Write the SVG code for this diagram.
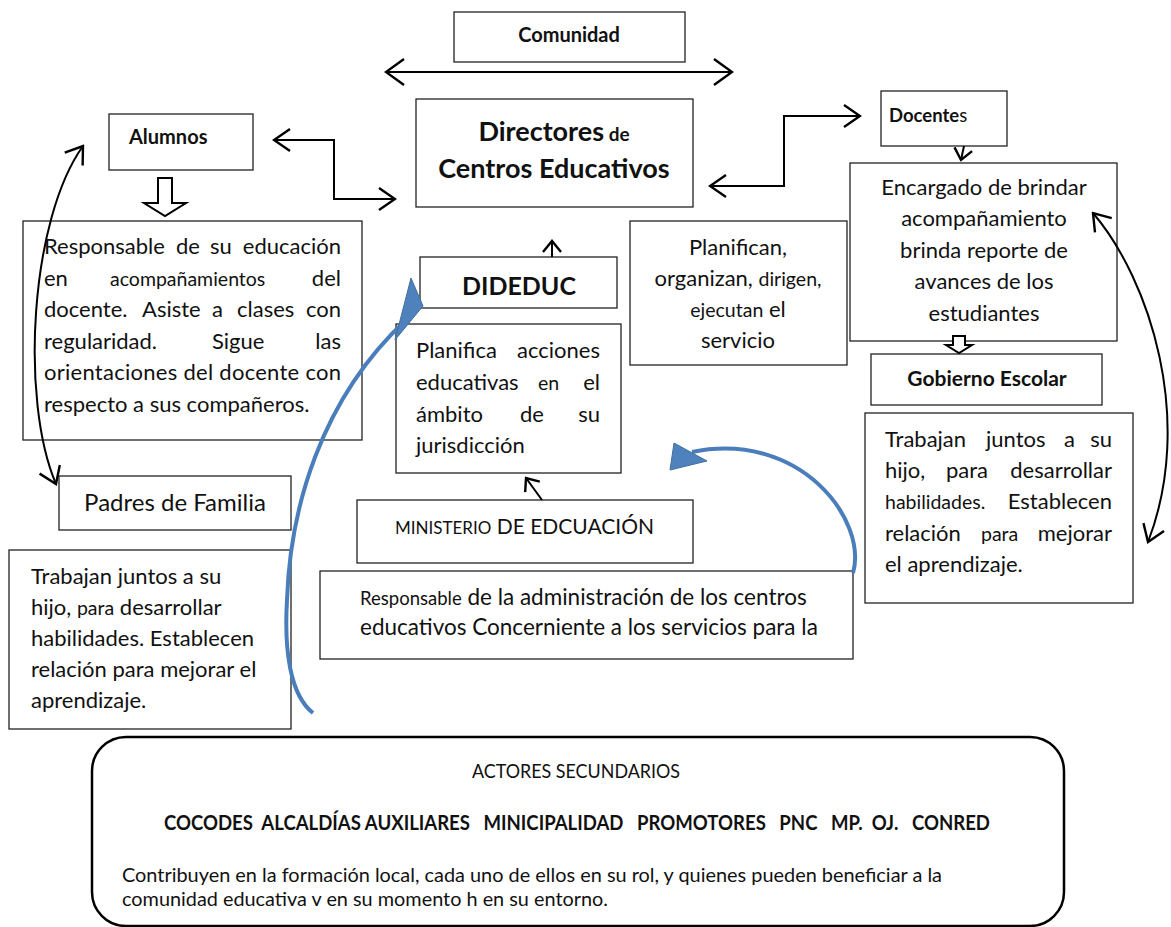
<svg xmlns="http://www.w3.org/2000/svg" width="1171" height="927" viewBox="0 0 1171 927">
<style>
.box{fill:#fff;stroke:#222;stroke-width:1.3}
.t{font-family:Lato,'Open Sans','Liberation Sans',sans-serif;font-size:22px;fill:#111}
.b{font-weight:bold}
.sm{font-size:19.5px}
.c{text-anchor:middle}
.e{text-anchor:end}
.conn{fill:none;stroke:#000;stroke-width:2}
.blue{fill:none;stroke:#4A7EBB;stroke-width:4;stroke-linecap:butt}
.bhead{fill:#4F81BD;stroke:#41719C;stroke-width:1}
.blk{fill:#fff;stroke:#000;stroke-width:2;stroke-linejoin:miter}
</style>
<defs>
<marker id="ahL" viewBox="0 0 22 30" refX="20" refY="15" markerWidth="22" markerHeight="30" markerUnits="userSpaceOnUse" orient="auto-start-reverse"><path d="M2,2 L20,15 L2,28" fill="none" stroke="#000" stroke-width="2.4"/></marker>
<marker id="ah" viewBox="0 0 20 26" refX="18" refY="13" markerWidth="20" markerHeight="26" markerUnits="userSpaceOnUse" orient="auto-start-reverse"><path d="M2,2 L18,13 L2,24" fill="none" stroke="#000" stroke-width="2.4"/></marker>
<marker id="ahS" viewBox="0 0 14 20" refX="12" refY="10" markerWidth="14" markerHeight="20" markerUnits="userSpaceOnUse" orient="auto-start-reverse"><path d="M1,1 L12,10 L1,19" fill="none" stroke="#000" stroke-width="2.4"/></marker>
</defs>
<rect width="1171" height="927" fill="#fff"/>

<g id="comunidad">
<rect class="box" x="454" y="12" width="231" height="50"/>
<text class="t b c" x="569" y="42" style="font-size:20px">Comunidad</text>
</g>

<g id="directores">
<rect class="box" x="416" y="99" width="277" height="108"/>
<text class="t b c" x="554" y="141" style="font-size:27px">Directores<tspan font-size="19"> de</tspan></text>
<text class="t b c" x="554" y="178" style="font-size:27px">Centros Educativos</text>
</g>

<g id="alumnos">
<rect class="box" x="109" y="114" width="144" height="56"/>
<text class="t b" x="129" y="144" style="font-size:20px">Alumnos</text>
</g>

<g id="alumnos-desc">
<rect class="box" x="23" y="221" width="339" height="219"/>
<text class="t" x="44" y="254">Responsable</text>
<text class="t" x="176" y="254">de</text>
<text class="t" x="210" y="254">su</text>
<text class="t e" x="341" y="254">educación</text>
<text class="t" x="44" y="286">en</text>
<text class="t sm" x="110" y="286">acompañamientos</text>
<text class="t e" x="341" y="286">del</text>
<text class="t" x="44" y="317">docente.</text>
<text class="t" x="142" y="317">Asiste</text>
<text class="t" x="212" y="317">a</text>
<text class="t" x="237" y="317">clases</text>
<text class="t e" x="341" y="317">con</text>
<text class="t" x="44" y="349">regularidad.</text>
<text class="t" x="212" y="349">Sigue</text>
<text class="t e" x="341" y="349">las</text>
<text class="t" x="44" y="380" textLength="297" lengthAdjust="spacing">orientaciones del docente con</text>
<text class="t" x="44" y="412">respecto a sus compañeros.</text>
</g>

<g id="padres">
<rect class="box" x="59" y="476" width="232" height="54"/>
<text class="t c" x="175" y="511" style="font-size:24px">Padres de Familia</text>
</g>

<g id="padres-desc">
<rect class="box" x="9" y="550" width="282" height="179"/>
<text class="t" x="31" y="584">Trabajan juntos a su</text>
<text class="t" x="31" y="615">hijo, <tspan class="sm">para</tspan> desarrollar</text>
<text class="t" x="31" y="646">habilidades. Establecen</text>
<text class="t" x="31" y="677">relación para mejorar el</text>
<text class="t" x="31" y="708">aprendizaje.</text>
</g>

<g id="dideduc">
<rect class="box" x="420" y="257" width="197" height="51"/>
<text class="t b c" x="519" y="295" style="font-size:25px">DIDEDUC</text>
</g>

<g id="dideduc-desc">
<rect class="box" x="396" y="324" width="225" height="149"/>
<text class="t" x="416" y="358">Planifica</text>
<text class="t e" x="600" y="358">acciones</text>
<text class="t" x="416" y="390">educativas</text>
<text class="t sm" x="538" y="390">en</text>
<text class="t e" x="600" y="390">el</text>
<text class="t" x="416" y="422">ámbito</text>
<text class="t" x="520" y="422">de</text>
<text class="t e" x="600" y="422">su</text>
<text class="t" x="416" y="453">jurisdicción</text>
</g>

<g id="ministerio">
<rect class="box" x="357" y="500" width="336" height="63"/>
<text class="t" x="395" y="534" style="font-size:21px"><tspan font-size="17">MINISTERIO</tspan> DE EDCUACIÓN</text>
</g>

<g id="ministerio-desc">
<rect class="box" x="320" y="571" width="533" height="88"/>
<text class="t" x="360" y="605" style="font-size:22.5px"><tspan font-size="18.5">Responsable</tspan> de la administración de los centros</text>
<text class="t" x="360" y="635" style="font-size:22.5px">educativos Concerniente a los servicios para la</text>
</g>

<g id="directores-desc">
<rect class="box" x="630" y="221" width="217" height="144"/>
<text class="t c" x="738" y="255">Planifican,</text>
<text class="t c" x="738" y="286">organizan, <tspan class="sm">dirigen,</tspan></text>
<text class="t c" x="738" y="317"><tspan class="sm">ejecutan</tspan> el</text>
<text class="t c" x="738" y="348">servicio</text>
</g>

<g id="docentes">
<rect class="box" x="881" y="91" width="126" height="55"/>
<text class="t" x="889" y="122" style="font-size:18.5px"><tspan class="b">Docente</tspan>s</text>
</g>

<g id="docentes-desc">
<rect class="box" x="850" y="163" width="267" height="178"/>
<text class="t c" x="984" y="195">Encargado de brindar</text>
<text class="t c" x="984" y="226">acompañamiento</text>
<text class="t c" x="984" y="258">brinda reporte de</text>
<text class="t c" x="984" y="289">avances de los</text>
<text class="t c" x="984" y="321">estudiantes</text>
</g>

<g id="gobierno">
<rect class="box" x="871" y="354" width="231" height="51"/>
<text class="t b c" x="987" y="386" style="font-size:21px">Gobierno Escolar</text>
</g>

<g id="gobierno-desc">
<rect class="box" x="865" y="413" width="268" height="190"/>
<text class="t" x="885" y="447">Trabajan</text>
<text class="t" x="986" y="447">juntos</text>
<text class="t" x="1064" y="447">a</text>
<text class="t e" x="1112" y="447">su</text>
<text class="t" x="885" y="478">hijo,</text>
<text class="t" x="946" y="478">para</text>
<text class="t e" x="1112" y="478">desarrollar</text>
<text class="t sm" x="885" y="509">habilidades.</text>
<text class="t e" x="1112" y="509">Establecen</text>
<text class="t" x="885" y="541">relación</text>
<text class="t sm" x="981" y="541">para</text>
<text class="t e" x="1112" y="541">mejorar</text>
<text class="t" x="885" y="572">el aprendizaje.</text>
</g>

<g id="actores">
<rect x="92" y="737" width="972" height="189" rx="34" ry="34" fill="#fff" stroke="#000" stroke-width="2.5"/>
<text class="t c" x="576" y="778" style="font-size:20px" textLength="208" lengthAdjust="spacingAndGlyphs">ACTORES SECUNDARIOS</text>
<text class="t b" x="164" y="830" style="font-size:21px;white-space:pre" xml:space="preserve" textLength="826" lengthAdjust="spacingAndGlyphs">COCODES  ALCALDÍAS AUXILIARES   MINICIPALIDAD   PROMOTORES   PNC   MP.  OJ.   CONRED</text>
<text class="t" x="122" y="882" style="font-size:19px" textLength="820" lengthAdjust="spacingAndGlyphs">Contribuyen en la formación local, cada uno de ellos en su rol, y quienes pueden beneficiar a la</text>
<text class="t" x="122" y="906" style="font-size:19px" textLength="486" lengthAdjust="spacingAndGlyphs">comunidad educativa v en su momento h en su entorno.</text>
</g>

<g id="connectors">
<path class="conn" d="M386,72 H732" marker-start="url(#ahL)" marker-end="url(#ahL)"/>
<path class="conn" d="M274,140 H334 V199 H395" marker-start="url(#ah)" marker-end="url(#ah)"/>
<path class="conn" d="M710,186 H784 V116 H860" marker-start="url(#ah)" marker-end="url(#ah)"/>
<path class="conn" d="M552,257 V241" marker-end="url(#ahS)"/>
<path class="conn" d="M542,500 L526,478" marker-end="url(#ahS)"/>
<path class="conn" d="M964,146 L961,160" marker-end="url(#ahS)"/>
<path class="conn" d="M83,146 C30,220 20,400 56,484" marker-start="url(#ah)" marker-end="url(#ah)"/>
<path class="conn" d="M1093,213 C1150,280 1195,420 1148,542" marker-start="url(#ah)" marker-end="url(#ah)"/>
<polygon class="blk" points="158,178 172,178 172,203 186,203 165,216 144,203 158,203"/>
<polygon class="blk" points="953,336 965,336 965,345 972,345 959,353 946,345 953,345" stroke-width="1.8"/>
<path class="blue" d="M313,713 C290,695 284,650 287,600 C290,510 320,400 406,320"/>
<polygon class="bhead" points="411,278 423,306 395,340"/>
<path class="blue" d="M853,573 C868,520 800,430 692,452"/>
<polygon class="bhead" points="670,470 674,443 707,461"/>
</g>
</svg>
